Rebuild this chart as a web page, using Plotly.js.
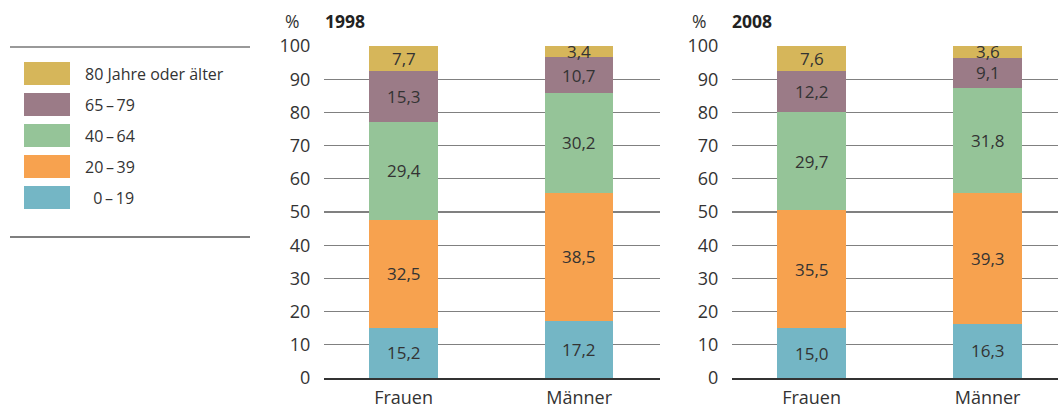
<!DOCTYPE html>
<html><head><meta charset="utf-8">
<script src="https://cdn.plot.ly/plotly-3.0.1.min.js"></script>
<style>html,body{margin:0;padding:0;background:#fff}#c{width:1058px;height:407px}</style>
</head><body><div id="c"></div>
<script>
const categories = ['Frauen', 'Männer'];
const groups = ['0–19', '20–39', '40–64', '65–79', '80 Jahre oder älter'];
const legendLabels = ['  0\u2009–\u200919', '20\u2009–\u200939', '40\u2009–\u200964', '65\u2009–\u200979', '80 Jahre oder älter'];
const colors = ['#74B6C5', '#F7A24F', '#95C498', '#9B7B87', '#D6B65A'];
// values per age group: [Frauen, Männer]
const values1998 = [[15.2, 17.2], [32.5, 38.5], [29.4, 30.2], [15.3, 10.7], [7.7, 3.4]];
const values2008 = [[15.0, 16.3], [35.5, 39.3], [29.7, 31.8], [12.2, 9.1], [7.6, 3.6]];
const years = ['1998', '2008'];
const yTicks = [0, 10, 20, 30, 40, 50, 60, 70, 80, 90, 100];

const FONT = 'Open Sans, Noto Sans, sans-serif';
const TXT = '#333333';
const fmt = v => v.toFixed(1).replace('.', ',');

const W = 1058, H = 407, MT = 46, MB = 29;
const px = x => x / W, py = y => (H - MB - y) / (H - MT - MB);

const traces = [];
const annotations = [];
const sets = [values1998, values2008];
sets.forEach((vals, si) => {
  const xa = si === 0 ? 'x' : 'x2';
  const ya = si === 0 ? 'y' : 'y2';
  const cum = categories.map(() => 0);
  vals.forEach((series, gi) => {
    traces.push({
      type: 'bar', x: categories, y: series, xaxis: xa, yaxis: ya,
      name: groups[gi], marker: {color: colors[gi], line: {width: 0}},
      width: 0.39, showlegend: false, hoverinfo: 'skip'
    });
    series.forEach((v, ci) => {
      annotations.push({
        xref: xa, yref: ya, x: categories[ci], y: cum[ci] + v / 2,
        text: fmt(v), showarrow: false, font: {family: FONT, size: 17, color: TXT}
      });
      cum[ci] += v;
    });
  });
});

// Titles
const titleX = [325, 732];
years.forEach((yr, i) => {
  annotations.push({xref: 'paper', yref: 'paper', x: px(titleX[i] - 24), y: py(21), yanchor: 'middle', xanchor: 'right',
    text: '%', showarrow: false, font: {family: FONT, size: 17.5, color: TXT}});
  annotations.push({xref: 'paper', yref: 'paper', x: px(titleX[i] - 2), y: py(21), yanchor: 'middle', xanchor: 'left',
    text: '<b>' + yr + '</b>', showarrow: false, font: {family: FONT, size: 17.5, color: '#222'}});
});

// Legend (custom, built from series)
const shapes = [];
shapes.push({type: 'line', xref: 'paper', yref: 'paper', x0: px(10), x1: px(250), y0: py(47), y1: py(47), line: {color: '#777', width: 1.5}});
shapes.push({type: 'line', xref: 'paper', yref: 'paper', x0: px(10), x1: px(250), y0: py(237), y1: py(237), line: {color: '#555', width: 1.5}});
const legendTop = 73.5, legendStep = 31;
for (let i = groups.length - 1, k = 0; i >= 0; i--, k++) {
  const yc = legendTop + k * legendStep;
  shapes.push({type: 'rect', xref: 'paper', yref: 'paper', x0: px(24), x1: px(70), y0: py(yc - 11.5), y1: py(yc + 11.5),
    fillcolor: colors[i], line: {width: 0}});
  annotations.push({xref: 'paper', yref: 'paper', x: px(83), y: py(yc), xanchor: 'left', yanchor: 'middle',
    text: legendLabels[i], showarrow: false, font: {family: FONT, size: 16, color: TXT}});
}

const yaxisBase = {
  range: [0, 100], tickvals: yTicks, ticktext: yTicks.map(String), showgrid: true,
  gridcolor: '#808080', gridwidth: 1.3, zeroline: false, showline: false,
  ticks: 'outside', ticklen: 9, tickcolor: 'rgba(0,0,0,0)',
  tickfont: {family: FONT, size: 18, color: TXT}, fixedrange: true
};
const xaxisBase = {
  type: 'category', showgrid: false, zeroline: false, showline: true, linecolor: '#333', linewidth: 1.6,
  ticks: 'outside', ticklen: 3, tickcolor: 'rgba(0,0,0,0)',
  tickfont: {family: FONT, size: 18, color: TXT}, fixedrange: true
};

const layout = {
  width: W, height: H, margin: {l: 0, r: 0, t: MT, b: MB},
  paper_bgcolor: '#fff', plot_bgcolor: 'rgba(0,0,0,0)',
  barmode: 'stack', showlegend: false,
  xaxis: Object.assign({}, xaxisBase, {domain: [px(324), px(660)], range: [-0.453, 1.46], anchor: 'y'}),
  xaxis2: Object.assign({}, xaxisBase, {domain: [px(732), 1], range: [-0.452, 1.40], anchor: 'y2'}),
  yaxis: Object.assign({}, yaxisBase, {anchor: 'x'}),
  yaxis2: Object.assign({}, yaxisBase, {anchor: 'x2'}),
  annotations: annotations, shapes: shapes
};

Plotly.newPlot('c', traces, layout, {displayModeBar: false, staticPlot: true});
</script></body></html>
